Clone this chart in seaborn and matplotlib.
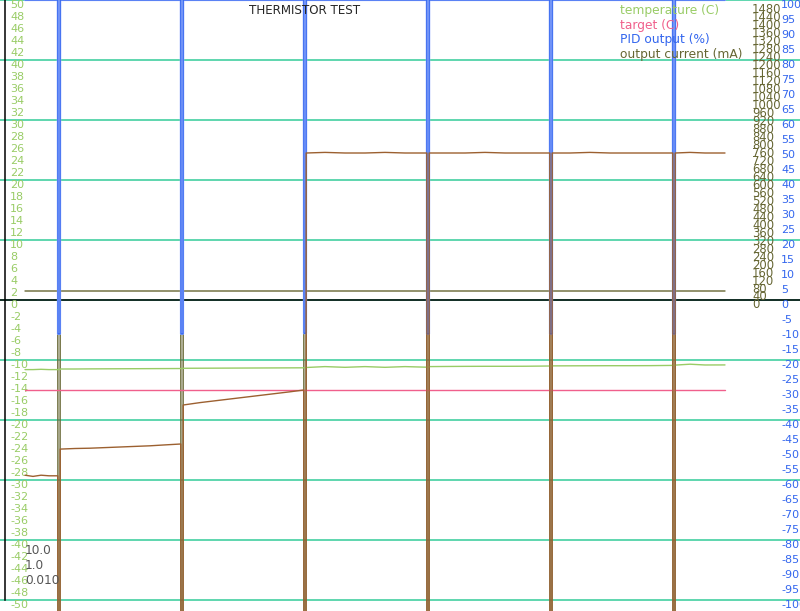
import seaborn as sns
import matplotlib.pyplot as plt
from matplotlib.lines import Line2D
from matplotlib.transforms import blended_transform_factory, offset_copy

# sample times (s), spikes every 123 s
time_s = [0, 8, 16, 24, 32.8, 33, 35,
          35.2, 50, 65, 80, 95, 110, 125, 140, 155.8, 156, 158,
          158.2, 175, 190, 205, 220, 235, 250, 265, 278.8, 279, 281,
          281.2, 300, 320, 340, 360, 380, 401.8, 402, 404,
          404.2, 420, 440, 460, 480, 500, 524.8, 525, 527,
          527.2, 545, 565, 585, 605, 625, 647.8, 648, 650,
          650.2, 665, 680, 700]

temperature = [-11.6, -11.6, -11.55, -11.6, -11.6, -11.6, -11.6,
               -11.5, -11.5, -11.48, -11.47, -11.46, -11.45, -11.44, -11.43, -11.42, -11.42, -11.42,
               -11.38, -11.37, -11.36, -11.35, -11.34, -11.33, -11.32, -11.31, -11.3, -11.3, -11.3,
               -11.25, -11.1, -11.22, -11.1, -11.22, -11.1, -11.2, -11.2, -11.2,
               -11.1, -11.08, -11.06, -11.05, -11.05, -11.04, -11.0, -11.0, -11.0,
               -10.98, -10.97, -10.96, -10.95, -10.95, -10.94, -10.9, -10.9, -10.9,
               -10.85, -10.7, -10.83, -10.82]

thermistor = [-29.2, -29.4, -29.2, -29.3, -29.3, -56, -56,
              -24.85, -24.75, -24.7, -24.6, -24.5, -24.4, -24.3, -24.15, -24.0, -56, -56,
              -17.5, -17.1, -16.8, -16.5, -16.2, -15.9, -15.6, -15.3, -15.0, -56, -56,
              24.5, 24.6, 24.5, 24.5, 24.6, 24.5, 24.5, -56, -56,
              24.5, 24.5, 24.5, 24.6, 24.5, 24.5, 24.5, -56, -56,
              24.5, 24.5, 24.6, 24.5, 24.5, 24.5, 24.5, -56, -56,
              24.5, 24.6, 24.5, 24.5]

target_time = [0, 700]
target = [-15.0, -15.0]

step_time = [0, 32.8, 33, 35, 35.2, 155.8, 156, 158, 158.2, 278.8, 279, 281, 281.2,
             401.8, 402, 404, 404.2, 524.8, 525, 527, 527.2, 647.8, 648, 650, 650.2, 700]
pid_output = [100, 100, -11.3, -11.3, 100, 100, -11.3, -11.3, 100, 100, -11.1, -11.1, 100,
              100, -11.3, -11.3, 100, 100, -11.3, -11.3, 100, 100, -11.3, -11.3, 100, 100]
output_current = [45, 45, -1600, -1600, 45, 45, -1600, -1600, 45, 45, -1600, -1600, 45,
                  45, -1600, -1600, 45, 45, -1600, -1600, 45, 45, -1600, -1600, 45, 45]

gain_labels = ['10.0', '1.0', '0.010']

GREEN = '#99cc66'
PINK = '#f0608c'
BLUE = '#3366ee'
OLIVE = '#666633'
BROWN = '#9c6030'
GRID = '#33cc99'

sns.set_style("white")
plt.rcParams['font.family'] = ['DejaVu Sans']

fig = plt.figure(figsize=(8, 6.11), dpi=100)
ax = fig.add_axes([0, 0, 1, 1])
ax_cur = ax.twinx()
ax_pid = ax.twinx()
ax_temp = ax.twinx()
ax.set_zorder(0)
ax_cur.set_zorder(1)
ax_pid.set_zorder(2)
ax_temp.set_zorder(3)

# lines
sns.lineplot(x=step_time, y=output_current, ax=ax_cur, color=OLIVE, lw=1.0, estimator=None, sort=False)
sns.lineplot(x=step_time, y=pid_output, ax=ax_pid, color='#9db3ff', lw=1.6, estimator=None, sort=False)
sns.lineplot(x=step_time, y=pid_output, ax=ax_pid, color=BLUE, lw=0.9, estimator=None, sort=False)
sns.lineplot(x=time_s, y=temperature, ax=ax_temp, color=GREEN, lw=1.0, estimator=None, sort=False)
sns.lineplot(x=target_time, y=target, ax=ax_temp, color=PINK, lw=1.0, estimator=None, sort=False)
sns.lineplot(x=time_s, y=thermistor, ax=ax_temp, color=BROWN, lw=1.0, estimator=None, sort=False)

for a in (ax, ax_temp):
    a.set_ylim(-51.833, 50)
ax_pid.set_ylim(-103.67, 100)
ax_cur.set_ylim(-1560.5, 1505)
for a in (ax, ax_cur, ax_pid, ax_temp):
    a.set_xlim(-25, 775)
    a.set_xticks([])
    a.tick_params(length=0, labelleft=False, labelright=False, labelbottom=False)
    for s in a.spines.values():
        s.set_visible(False)
    a.set_xlabel('')
    a.set_ylabel('')
for a in (ax_cur, ax_pid, ax_temp):
    a.set_yticks([])

# grid and axis line on the base axes
ax.set_yticks(range(-50, 51, 10))
ax.grid(True, axis='y', color=GRID, lw=1.1)
ax.grid(False, axis='x')
ax.axhline(0, color='black', lw=1.1)
ax.spines['left'].set_visible(True)
ax.spines['left'].set_color('black')
ax.spines['left'].set_linewidth(1.1)
ax.spines['left'].set_position(('data', -20))
ax.spines['left'].set_bounds(-50, 50)

# tick labels drawn inside the plot
def labels(values, data_ax, xpx, color, size=8):
    tr = blended_transform_factory(ax.transAxes, data_ax.transData)
    tr = offset_copy(tr, fig=fig, y=-5, units='dots')
    for v in values:
        ax.text(xpx / 800, v, str(v), transform=tr, ha='left', va='center',
                fontsize=size, color=color)

labels(range(-50, 51, 2), ax, 10, GREEN)
labels(range(0, 1481, 40), ax_cur, 752, OLIVE, 8.4)
labels(range(-100, 101, 5), ax_pid, 781, BLUE)

fig.text(305 / 800, 1 - 11 / 611, 'THERMISTOR TEST', ha='center', va='center', fontsize=8.6)

for i, g in enumerate(gain_labels):
    fig.text(25 / 800, 1 - (551 + 14.5 * i) / 611, g, ha='left', va='center',
             fontsize=8.7, color='#555555')

handles = [Line2D([], [], color=c) for c in (GREEN, PINK, BLUE, OLIVE)]
ax_temp.legend(handles, ['temperature (C)', 'target (C)', 'PID output (%)', 'output current (mA)'],
               labelcolor=[GREEN, PINK, BLUE, OLIVE], loc='upper left',
               bbox_to_anchor=(620 / 800, 1 - 4 / 611), frameon=False, fontsize=8.8,
               handlelength=0, handletextpad=0, borderpad=0, borderaxespad=0,
               labelspacing=0.13)

fig.savefig('out.png', dpi=100)
